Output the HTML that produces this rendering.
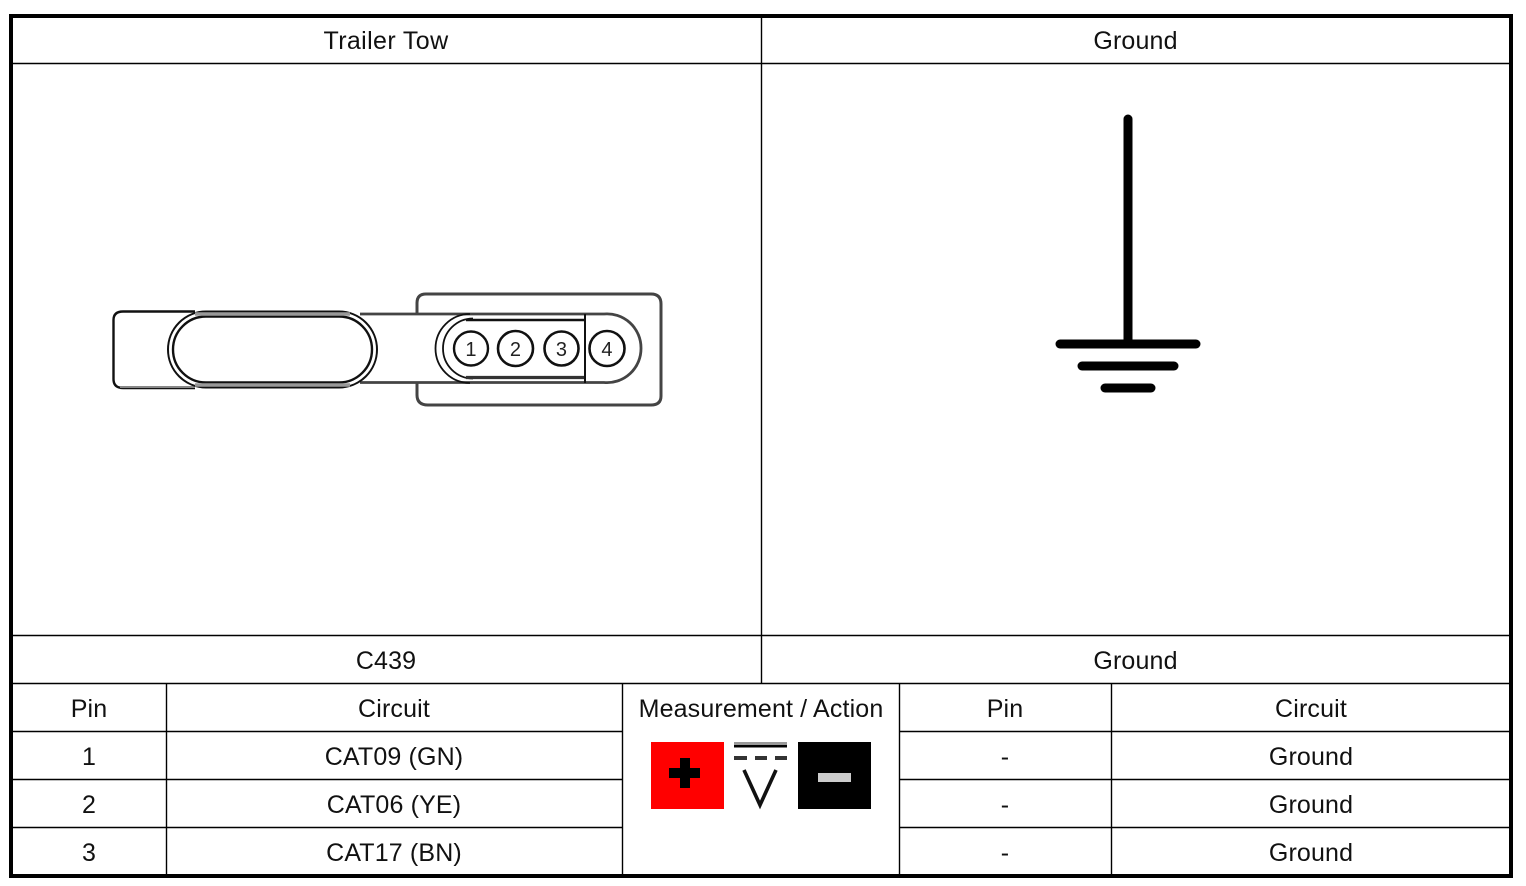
<!DOCTYPE html>
<html><head><meta charset="utf-8"><style>
html,body{margin:0;padding:0;background:#fff;width:1526px;height:886px;overflow:hidden}
svg{display:block}
text{font-family:"Liberation Sans",sans-serif;font-size:25px;fill:#111;text-anchor:middle;letter-spacing:.15px}
</style></head><body>
<svg width="1526" height="886" viewBox="0 0 1526 886" xmlns="http://www.w3.org/2000/svg">
<rect width="1526" height="886" fill="#fff"/>
<g stroke="#000" stroke-width="1.4" fill="none">
<path d="M12 63.5H1510M12 635.5H1510M12 683.5H1510M12 731.5H622M899 731.5H1510M12 779.5H622M899 779.5H1510M12 827.5H622M899 827.5H1510"/>
<path d="M761.5 16V684M166.5 684V876M622.5 684V876M899.5 684V876M1111.5 684V876"/>
</g>
<rect x="11" y="16" width="1500" height="860" fill="none" stroke="#000" stroke-width="4"/>
<g>
<text x="386" y="49" style="letter-spacing:.38px">Trailer Tow</text>
<text x="1135.5" y="49">Ground</text>
<text x="386" y="669">C439</text>
<text x="1135.5" y="669">Ground</text>
<text x="89" y="717">Pin</text>
<text x="394" y="717">Circuit</text>
<text x="761" y="717">Measurement / Action</text>
<text x="1005" y="717">Pin</text>
<text x="1311" y="717">Circuit</text>
<text x="89" y="765">1</text>
<text x="394" y="765">CAT09 (GN)</text>
<text x="1005" y="765">-</text>
<text x="1311" y="765">Ground</text>
<text x="89" y="813">2</text>
<text x="394" y="813">CAT06 (YE)</text>
<text x="1005" y="813">-</text>
<text x="1311" y="813">Ground</text>
<text x="89" y="861">3</text>
<text x="394" y="861">CAT17 (BN)</text>
<text x="1005" y="861">-</text>
<text x="1311" y="861">Ground</text>
</g>
<!-- ground symbol -->
<g stroke="#000" stroke-linecap="round" fill="none">
<path d="M1128 119V342" stroke-width="9"/>
<path d="M1060 344H1196" stroke-width="9"/>
<path d="M1082 366H1174" stroke-width="9"/>
<path d="M1105 388H1151" stroke-width="9"/>
</g>
<!-- connector -->
<g fill="none" stroke="#111">
<path d="M417 314V303Q417 294 426 294H651Q661 294 661 304V396Q661 405 651 405H428Q417 405 417 395V382" stroke-width="3" stroke="#444"/>
<path d="M195 311.5H123Q113.500 311.500 113.500 320V379Q113.500 388 123 388H195" stroke-width="2.4"/>
<path d="M120 387H195" stroke-width="2" stroke="#888"/>
<path d="M360 314H604A34 34 0 0 1 641 348A34 34 0 0 1 604 382.500H360" stroke-width="2.800" stroke="#444"/>
<rect x="168" y="311.500" width="209" height="76" rx="38" ry="38" stroke-width="2" fill="#fff"/>
<rect x="173" y="316.500" width="199" height="66" rx="33" ry="33" stroke-width="2.400" fill="#fff"/>
<path d="M195 314H350M195 385H350" stroke="#999" stroke-width="3.500"/>
<path d="M470 314A34.500 34.500 0 0 0 470 383" stroke-width="1.800"/>
<path d="M473 318.500A30 30 0 0 0 473 378.500" stroke-width="1.800"/>
<path d="M466 320H585" stroke-width="2.400"/>
<path d="M466 377.500H585" stroke-width="3.200" stroke="#333"/>
<path d="M585 314V383" stroke-width="2"/>
<circle cx="471" cy="348.500" r="17" stroke-width="2.400"/>
<circle cx="515.500" cy="348.500" r="17.500" stroke-width="2.600"/>
<circle cx="561.500" cy="348.500" r="17" stroke-width="2.600"/>
<circle cx="607" cy="348.500" r="17.500" stroke-width="2.600"/>
</g>
<g>
<text x="471" y="356" style="font-size:20px;fill:#222">1</text>
<text x="515.500" y="356" style="font-size:20px;fill:#222">2</text>
<text x="561.500" y="356" style="font-size:20px;fill:#222">3</text>
<text x="607" y="356" style="font-size:20px;fill:#222">4</text>
</g>
<!-- measurement icons -->
<rect x="651" y="742" width="73" height="67" fill="#f00"/>
<path d="M680 758H690V768H700V778H690V788H680V778H669V768H680Z" fill="#000"/>
<rect x="798" y="742" width="73" height="67" fill="#000"/>
<rect x="818" y="773" width="33" height="9" fill="#ccc"/>
<rect x="734" y="742" width="53" height="5" fill="#999"/>
<rect x="734" y="745" width="53" height="2.500" fill="#000"/>
<path d="M734 758H747M755 758H767M775 758H787" stroke="#333" stroke-width="4" fill="none"/>
<path d="M744 770L760 805L776 770" stroke="#111" stroke-width="3.600" fill="none"/>
</svg>
</body></html>
